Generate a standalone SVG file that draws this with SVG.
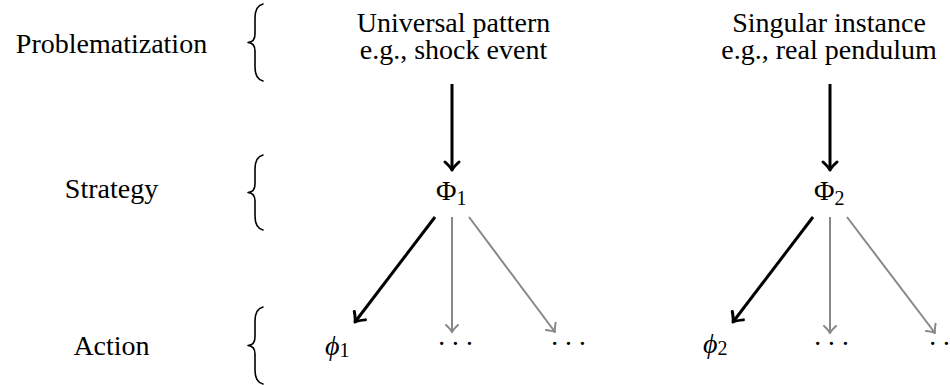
<svg xmlns="http://www.w3.org/2000/svg" width="950" height="385" viewBox="0 0 950 385">
<style>
text{font-size:28px;fill:#000}
.c{text-anchor:middle}
.sub{font-size:20px}
.it{font-style:italic}
.brace{fill:none;stroke:#000;stroke-width:1.6;stroke-linecap:round;stroke-linejoin:round}
.blk{stroke:#000;stroke-width:3;fill:none;marker-end:url(#ab)}
.gry{stroke:#888;stroke-width:2;fill:none;marker-end:url(#ag)}
</style>
<defs>
<marker id="ab" markerUnits="userSpaceOnUse" viewBox="-12 -10 14 20" refX="0" refY="0" markerWidth="14" markerHeight="20" orient="auto" overflow="visible">
<path d="M-8,-7 Q-3,-1.5 0,0 Q-3,1.5 -8,7" fill="none" stroke="#000" stroke-width="3" stroke-linecap="round" stroke-linejoin="round"/>
</marker>
<marker id="ag" markerUnits="userSpaceOnUse" viewBox="-12 -10 14 20" refX="0" refY="0" markerWidth="14" markerHeight="20" orient="auto" overflow="visible">
<path d="M-7,-6 Q-2.5,-1.2 0,0 Q-2.5,1.2 -7,6" fill="none" stroke="#888" stroke-width="2" stroke-linecap="round" stroke-linejoin="round"/>
</marker>
</defs>
<g id="labels">
<g id="lbl-problematization"><text class="c" x="111.5" y="53" font-family="Liberation Serif">Problematization</text></g>
<g id="lbl-strategy"><text class="c" x="111.5" y="198" font-family="Liberation Serif">Strategy</text></g>
<g id="lbl-action"><text class="c" x="111.5" y="355" font-family="Liberation Serif">Action</text></g>
</g>
<g id="braces">
<path class="brace" d="M263,4 Q255,6 255,18 L255,34 Q255,42 248,42.5 Q255,43 255,51 L255,67 Q255,79 263,81"/>
<path class="brace" d="M263,155 Q255,157 255,169 L255,184 Q255,192 248,192.5 Q255,193 255,201 L255,216 Q255,228 263,230"/>
<path class="brace" d="M263,307 Q255,309 255,321 L255,337 Q255,345 248,345.5 Q255,346 255,354 L255,370 Q255,382 263,384"/>
</g>
<g id="universal">
<text class="c" x="453.5" y="32" font-family="Liberation Serif">Universal pattern</text>
<text class="c" x="453.5" y="59" font-family="Liberation Serif">e.g., shock event</text>
</g>
<g id="singular">
<text class="c" x="829" y="32" font-family="Liberation Serif">Singular instance</text>
<text class="c" x="829" y="59" font-family="Liberation Serif">e.g., real pendulum</text>
</g>
<g id="Phi1"><text x="436" y="200" font-family="Liberation Serif">Φ<tspan class="sub" dy="5">1</tspan></text></g>
<g id="Phi2"><text x="814" y="200" font-family="Liberation Serif">Φ<tspan class="sub" dy="5">2</tspan></text></g>
<g id="phi1"><text x="325" y="355" font-family="Liberation Serif"><tspan class="it">ϕ</tspan><tspan class="sub" dy="2">1</tspan></text></g>
<g id="dots1a"><text x="437" y="353" letter-spacing="4.5" font-family="Liberation Serif">···</text></g>
<g id="dots1b"><text x="550" y="353" letter-spacing="4.5" font-family="Liberation Serif">···</text></g>
<g id="phi2"><text x="703" y="353" font-family="Liberation Serif"><tspan class="it">ϕ</tspan><tspan class="sub" dy="2">2</tspan></text></g>
<g id="dots2a"><text x="813" y="353" letter-spacing="4.5" font-family="Liberation Serif">···</text></g>
<g id="dots2b"><text x="928" y="353" letter-spacing="4.5" font-family="Liberation Serif">···</text></g>
<g id="connectors">
<line class="blk" x1="452" y1="84" x2="452" y2="170"/>
<line class="blk" x1="830" y1="84" x2="830" y2="170"/>
<line class="blk" x1="435" y1="217" x2="355" y2="322"/>
<line class="gry" x1="452" y1="217" x2="452" y2="332"/>
<line class="gry" x1="469" y1="217" x2="555" y2="332"/>
<line class="blk" x1="813" y1="217" x2="733" y2="322"/>
<line class="gry" x1="830" y1="217" x2="830" y2="333"/>
<line class="gry" x1="847" y1="217" x2="935" y2="333"/>
</g>
</svg>
